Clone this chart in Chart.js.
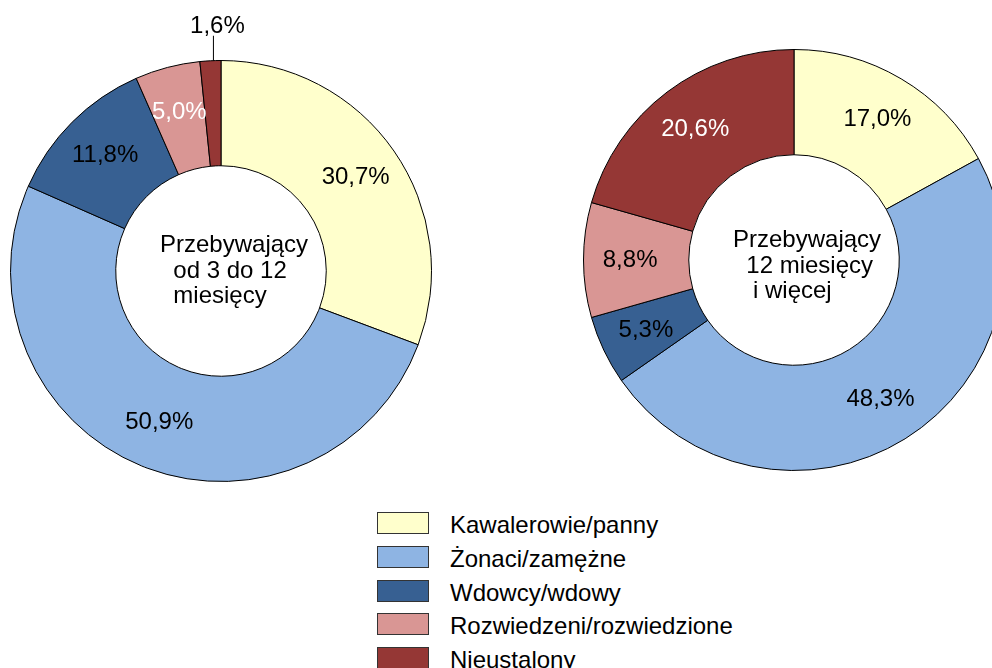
<!DOCTYPE html>
<html>
<head>
<meta charset="utf-8">
<script src="https://cdn.jsdelivr.net/npm/chart.js@4/dist/chart.umd.min.js"></script>
<style>
    html, body { margin: 0; padding: 0; background: #fff; }
    body { width: 992px; height: 668px; overflow: hidden; position: relative; font-family: "Liberation Sans", Arial, sans-serif; }
    canvas { position: absolute; }
    #leftChart { left: 10px; top: 0; }
    #rightChart { left: 583px; top: 49px; }
    #legend { position: absolute; left: 377px; top: 512px; }
    .row { height: 33.75px; position: relative; }
    .box { position: absolute; left: 0; top: 0; width: 50px; height: 20px; border: 1px solid #333; }
    .txt { position: absolute; left: 73px; top: 1px; font-size: 24px; line-height: 24px; white-space: nowrap; color: #000; }
</style>
</head>
<body>
<canvas id="leftChart" width="422" height="482"></canvas>
<canvas id="rightChart" width="422" height="422"></canvas>
<div id="legend"></div>

<script>
const CATEGORIES = ["Kawalerowie/panny", "Żonaci/zamężne", "Wdowcy/wdowy", "Rozwiedzeni/rozwiedzione", "Nieustalony"];
const COLORS = ["#FFFFCC", "#8EB4E3", "#376092", "#D99694", "#953735"];

const SHORT_STAY = [30.7, 50.9, 11.8, 5.0, 1.6];   // od 3 do 12 miesięcy
const LONG_STAY = [17.0, 48.3, 5.3, 8.8, 20.6];    // 12 miesięcy i więcej

const SHORT_LABEL_COLORS = ["#000", "#000", "#000", "#fff", "#000"];
const LONG_LABEL_COLORS = ["#000", "#000", "#000", "#000", "#fff"];

const SHORT_CENTER = ["Przebywający", "  od 3 do 12", "  miesięcy"];
const LONG_CENTER = ["Przebywający", "  12 miesięcy", "   i więcej"];

const FONT = '24px "Liberation Sans", Arial, sans-serif';

function fmt(v) {
    return v.toFixed(1).replace(".", ",") + "%";
}

// percent labels, small slices get a leader line outside the ring
const sliceLabels = {
    id: "sliceLabels",
    afterDatasetsDraw(chart, args, opts) {
        const ctx = chart.ctx;
        const meta = chart.getDatasetMeta(0);
        const values = chart.data.datasets[0].data;
        ctx.save();
        ctx.font = FONT;
        ctx.textAlign = "center";
        meta.data.forEach((arc, i) => {
            const p = arc.getProps(["x", "y", "startAngle", "endAngle", "innerRadius", "outerRadius"], true);
            const mid = (p.startAngle + p.endAngle) / 2;
            if (values[i] < 3) {
                const ox = p.x + p.outerRadius * Math.cos(mid) + 3;
                const oy = p.y + p.outerRadius * Math.sin(mid);
                ctx.strokeStyle = "#000";
                ctx.lineWidth = 1;
                ctx.beginPath();
                ctx.moveTo(ox, oy);
                ctx.lineTo(ox, oy - 25);
                ctx.stroke();
                ctx.fillStyle = "#000";
                ctx.textBaseline = "alphabetic";
                ctx.fillText(fmt(values[i]), ox + 4, oy - 28);
                return;
            }
            const r = (p.innerRadius + p.outerRadius) / 2 + 6;
            ctx.fillStyle = opts.colors[i];
            ctx.textBaseline = "middle";
            ctx.fillText(fmt(values[i]), p.x + r * Math.cos(mid), p.y + r * Math.sin(mid));
        });
        ctx.restore();
    }
};

const centerText = {
    id: "centerText",
    afterDatasetsDraw(chart, args, opts) {
        const ctx = chart.ctx;
        const arc = chart.getDatasetMeta(0).data[0];
        ctx.save();
        ctx.font = FONT;
        ctx.fillStyle = "#000";
        ctx.textAlign = "left";
        ctx.textBaseline = "alphabetic";
        opts.lines.forEach((line, i) => {
            ctx.fillText(line, arc.x - 61, arc.y + opts.top + i * 25.5);
        });
        ctx.restore();
    }
};

function makeChart(id, values, labelColors, lines, top, padTop) {
    return new Chart(document.getElementById(id), {
        type: "doughnut",
        data: {
            labels: CATEGORIES,
            datasets: [{
                data: values,
                backgroundColor: COLORS,
                borderColor: "#000",
                borderWidth: 1
            }]
        },
        options: {
            responsive: false,
            animation: false,
            cutout: "50%",
            layout: { padding: { top: padTop } },
            plugins: {
                legend: { display: false },
                tooltip: { enabled: false },
                sliceLabels: { colors: labelColors },
                centerText: { lines: lines, top: top }
            }
        },
        plugins: [sliceLabels, centerText]
    });
}

makeChart("leftChart", SHORT_STAY, SHORT_LABEL_COLORS, SHORT_CENTER, -19, 60);
makeChart("rightChart", LONG_STAY, LONG_LABEL_COLORS, LONG_CENTER, -13, 0);

// legend
const legend = document.getElementById("legend");
CATEGORIES.forEach((name, i) => {
    const row = document.createElement("div");
    row.className = "row";
    row.innerHTML = `<div class="box" style="background:${COLORS[i]}"></div><div class="txt">${name}</div>`;
    legend.appendChild(row);
});
</script>
</body>
</html>
